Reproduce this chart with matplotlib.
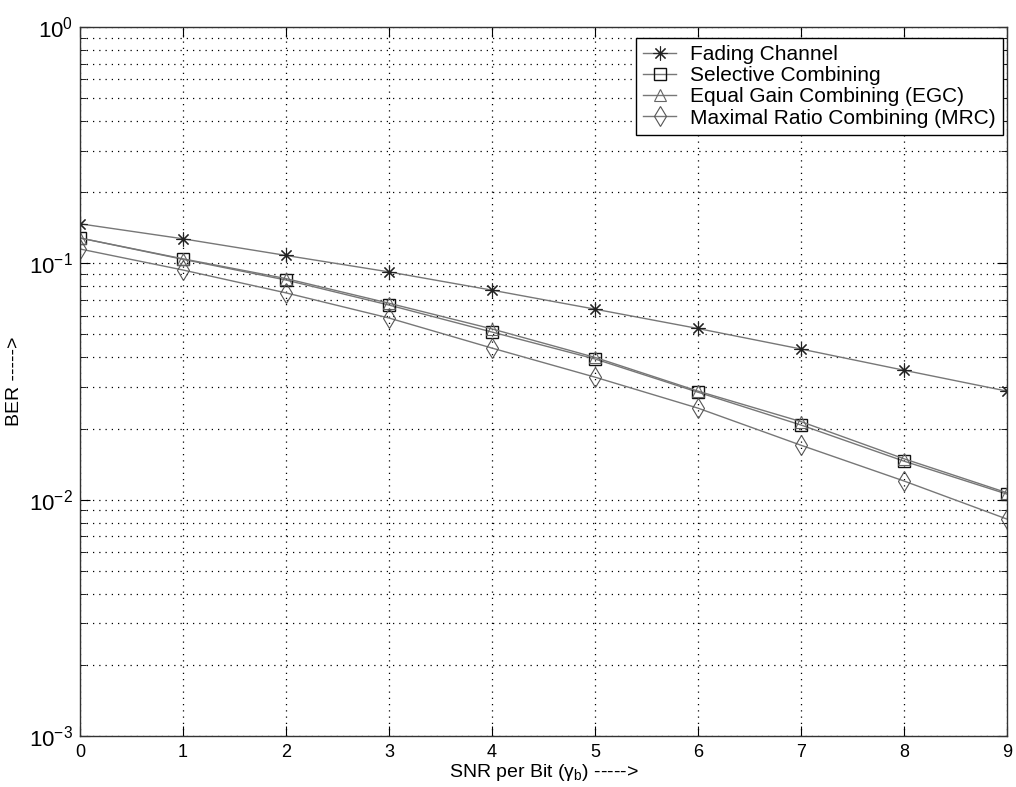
import matplotlib.pyplot as plt
from matplotlib.ticker import LogLocator, NullFormatter

plt.rcParams['font.family'] = ['Liberation Sans', 'DejaVu Sans']

# SNR per bit (dB)
snr = [0, 1, 2, 3, 4, 5, 6, 7, 8, 9]

# BER
ber_fading = [0.147, 0.127, 0.108, 0.092, 0.077, 0.064, 0.053, 0.0434, 0.0353, 0.0288]
ber_sc = [0.128, 0.104, 0.085, 0.0666, 0.0512, 0.0394, 0.0285, 0.0207, 0.01456, 0.01056]
ber_egc = [0.128, 0.1045, 0.0862, 0.0678, 0.0528, 0.0400, 0.0288, 0.0214, 0.0149, 0.0107]
ber_mrc = [0.115, 0.0937, 0.075, 0.0587, 0.0438, 0.033, 0.0244, 0.0170, 0.0120, 0.00828]

labels = ['Fading Channel', 'Selective Combining',
          'Equal Gain Combining (EGC)', 'Maximal Ratio Combining (MRC)']

fig = plt.figure(figsize=(10.16, 7.87), dpi=100)
ax = fig.add_axes([0.0787, 0.0648, 0.9123, 0.9009])

line_col = '#777777'
common = dict(color=line_col, linewidth=1.0, markerfacecolor='none')
ax.semilogy(snr, ber_fading, marker=(8, 2, 0), markersize=10,
            markeredgecolor='#222222', markeredgewidth=0.8, label=labels[0], **common)
ax.semilogy(snr, ber_sc, marker='s', markersize=9,
            markeredgecolor='#111111', markeredgewidth=1.0, label=labels[1], **common)
ax.semilogy(snr, ber_egc, marker='^', markersize=9,
            markeredgecolor='#666666', markeredgewidth=0.8, label=labels[2], **common)
ax.semilogy(snr, ber_mrc, marker='d', markersize=10,
            markeredgecolor='#555555', markeredgewidth=0.8, label=labels[3], **common)

ax.set_xlim(0, 9)
ax.set_ylim(1e-3, 1)
ax.set_xticks(snr)
ax.yaxis.set_major_locator(LogLocator(base=10, numticks=10))
ax.yaxis.set_minor_locator(LogLocator(base=10, subs=range(2, 10), numticks=50))
ax.yaxis.set_minor_formatter(NullFormatter())

ax.grid(True, which='major', linestyle=(0, (1, 4)), color='black', linewidth=0.9)
ax.grid(True, which='minor', axis='y', linestyle=(0, (1, 4)), color='black', linewidth=0.9)

ax.tick_params(which='both', direction='in', top=True, right=True)
ax.tick_params(axis='x', pad=6, labelsize=13)
ax.tick_params(axis='y', pad=5, labelsize=16)
ax.tick_params(which='major', length=7)
ax.tick_params(which='minor', length=4)
for s in ax.spines.values():
    s.set_linewidth(1.0)
    s.set_color('#333333')

ax.set_xlabel(r'SNR per Bit ($\mathregular{\gamma_b}$) ----->', fontsize=14)
ax.set_ylabel('BER ----->', fontsize=14)
ax.xaxis.set_label_coords(0.5, -0.036)
ax.yaxis.set_label_coords(-0.061, 0.5)

leg = ax.legend(loc='upper right', bbox_to_anchor=(0.9957, 0.9845), borderaxespad=0,
                fontsize=15, fancybox=False, framealpha=1, edgecolor='black',
                borderpad=0.35, labelspacing=0.1, handlelength=1.6,
                handletextpad=0.65)
leg.get_frame().set_linewidth(1.0)

fig.savefig('out.png', dpi=100)
